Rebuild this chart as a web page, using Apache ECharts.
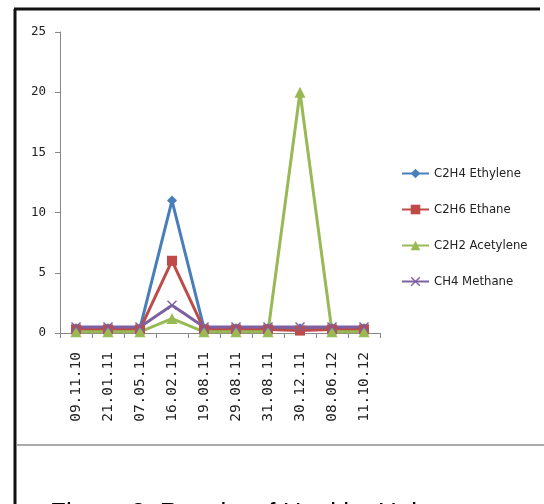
<!DOCTYPE html>
<html><head><meta charset="utf-8">
<script src="https://cdn.jsdelivr.net/npm/echarts@6/dist/echarts.min.js"></script>
<style>html,body{margin:0;padding:0;background:#fff}#c{width:544px;height:504px}</style>
</head><body><div id="c"></div>
<script>
const categories = ['09.11.10','21.01.11','07.05.11','16.02.11','19.08.11','29.08.11','31.08.11','30.12.11','08.06.12','11.10.12'];
const ethylene  = [0.4,0.4,0.4,11,0.4,0.4,0.4,0.4,0.4,0.4];
const ethane    = [0.3,0.3,0.3,6,0.3,0.3,0.3,0.2,0.3,0.3];
const acetylene = [0.1,0.1,0.1,1.2,0.1,0.1,0.1,20,0.1,0.1];
const methane   = [0.5,0.5,0.5,2.3,0.5,0.5,0.5,0.5,0.5,0.5];
const yTicks = [0,5,10,15,20,25];

const narrow = '"Liberation Sans Narrow","DejaVu Sans Condensed",sans-serif';
const mono = '"DejaVu Sans Mono","Liberation Mono",monospace';
const xSym = 'path://M0,1L1,0L5,4L9,0L10,1L6,5L10,9L9,10L5,6L1,10L0,9L4,5Z';
const chart = echarts.init(document.getElementById('c'));
function s(name, data, color, symbol, size) {
  return {name, type:'line', data, symbol, symbolSize:size, showSymbol:true,
    lineStyle:{color, width:3}, itemStyle:{color}, emphasis:{disabled:true}, animation:false};
}
chart.setOption({
  animation:false,
  grid:{left:60, right:164, top:32, bottom:171, containLabel:false},
  legend:{orient:'vertical', left:396, top:162, itemGap:23, itemWidth:27, itemHeight:12,
    textStyle:{fontFamily:narrow, fontSize:13, color:'#222'},
    data:['C2H4 Ethylene','C2H6 Ethane','C2H2 Acetylene','CH4 Methane']},
  xAxis:{type:'category', data:categories, boundaryGap:true,
    axisLine:{lineStyle:{color:'#888', width:1}},
    axisTick:{show:true, length:5, lineStyle:{color:'#888'}},
    axisLabel:{rotate:90, margin:19, fontFamily:mono, fontSize:14.5, color:'#222', interval:0}},
  yAxis:{type:'value', min:0, max:25, interval:5,
    axisLine:{show:true, lineStyle:{color:'#888', width:1}},
    axisTick:{show:true, length:5, lineStyle:{color:'#888'}},
    splitLine:{show:false},
    axisLabel:{margin:14, fontFamily:mono, fontSize:12.5, color:'#222',
      formatter:v=>yTicks.includes(v)?String(v):''}},
  series:[
    s('C2H4 Ethylene', ethylene, '#4a7ebb', 'diamond', 10),
    s('C2H6 Ethane', ethane, '#be4b48', 'rect', 10),
    s('C2H2 Acetylene', acetylene, '#98b954', 'triangle', 11),
    s('CH4 Methane', methane, '#7d60a0', xSym, 10)
  ],
  graphic:[
    {type:'line', shape:{x1:14,y1:9,x2:540,y2:9}, style:{stroke:'#111', lineWidth:3}},
    {type:'line', shape:{x1:15,y1:9,x2:15,y2:504}, style:{stroke:'#111', lineWidth:3}},
    {type:'line', shape:{x1:17,y1:445,x2:544,y2:445}, style:{stroke:'#aaa', lineWidth:2}},
    {type:'text', left:50, top:501, style:{text:'Figure 2: Results of Healthy Unit', fontSize:26, fontFamily:'"Liberation Sans",Arial,sans-serif', fill:'#000'}}
  ]
});
</script></body></html>
